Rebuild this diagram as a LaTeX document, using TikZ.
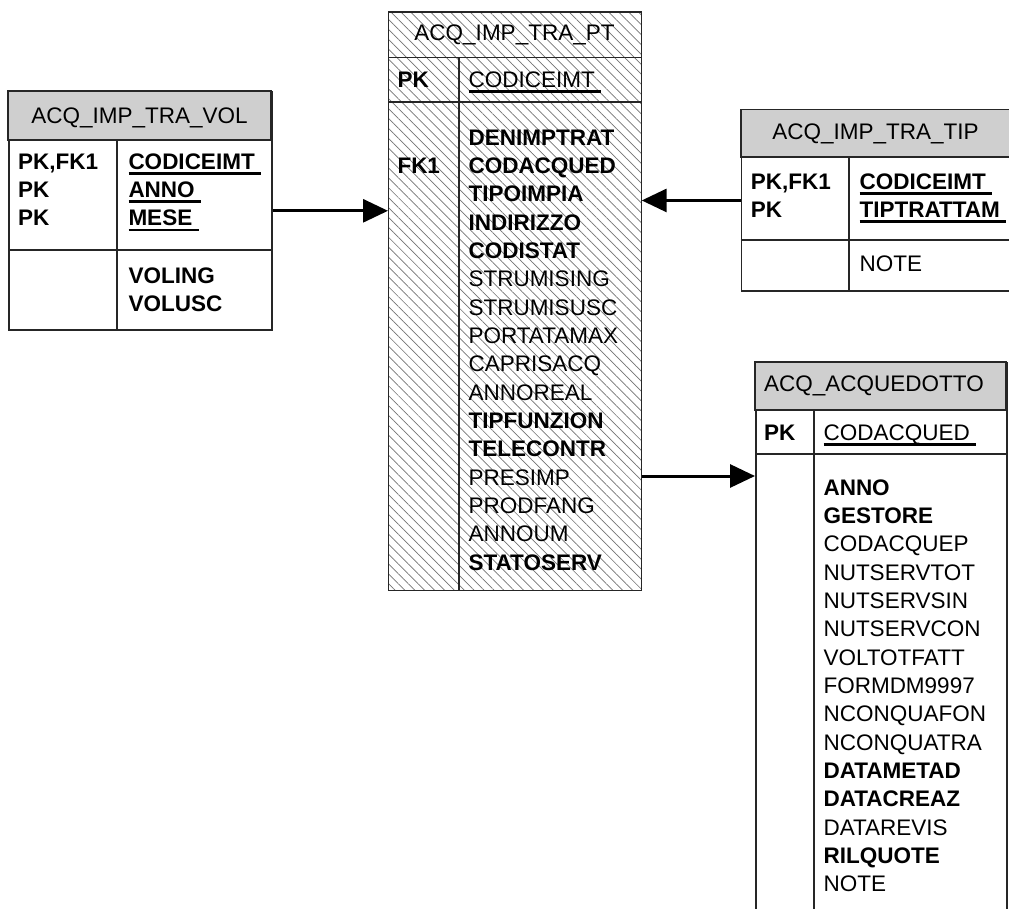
\documentclass[tikz,border=0pt]{standalone}
\usepackage{fontspec}
\setmainfont{Liberation Sans}
\usetikzlibrary{arrows.meta,patterns.meta}
\newcommand{\fs}{\fontsize{22.5pt}{28.33pt}\selectfont}
\newcommand{\pk}[1]{\setbox0\hbox{#1\ }\rlap{\rule[-5.5pt]{\wd0}{2.7pt}}#1}

\begin{document}
\begin{tikzpicture}[x=1pt,y=-1pt]
    \tikzset{
      box/.style={draw=black!85, line width=1.6pt},
      tbl/.style={box, anchor=north west, inner sep=0pt},
      hdr/.style={box, fill=black!19},
      title/.style={font=\fs, anchor=base, inner sep=0pt},
      rows/.style={font=\fs, anchor=north west, align=left, inner sep=0pt},
      link/.style={line width=3pt, -{Triangle[length=25pt,width=23pt]}},
    }
    \useasboundingbox (0,0) rectangle (1009,908);
    \clip (0,0) rectangle (1009,908);

    % ACQ_IMP_TRA_VOL
    \node[tbl, minimum width=263pt, minimum height=238pt] (vol) at (8,91) {};
    \draw[hdr] (8,91) rectangle (271,140);
    \draw[box] (8,250) -- (271,250) (117,140) -- (117,329);
    \node[title] (volname) at (139.5,123.5) {ACQ\_IMP\_TRA\_VOL};
    \node[rows] (volkeys) at (18,149.2) {\strut\textbf{PK,FK1}\\ \textbf{PK}\\ \textbf{PK}};
    \node[rows] (volpk) at (128.3,149.2) {\strut\textbf{\pk{CODICEIMT}}\\ \textbf{\pk{ANNO}}\\ \textbf{\pk{MESE}}};
    \node[rows] (volattr) at (128.3,263.2) {\strut\textbf{VOLING}\\ \textbf{VOLUSC}};

    % ACQ_IMP_TRA_PT
    \node[tbl, minimum width=253pt, minimum height=578.3pt,
      pattern={Lines[angle=-45,distance=7pt,line width=0.7pt]},
      pattern color=black!55] (pt) at (388,11.7) {};
    \draw[box] (388,57.3) -- (641,57.3) (388,101.7) -- (641,101.7)
      (458.7,57.3) -- (458.7,590);
    \node[title] (ptname) at (514.5,40) {ACQ\_IMP\_TRA\_PT};
    \node[rows] (ptkeys) at (397.3,67.2) {\strut\textbf{PK}};
    \node[rows] (ptpk) at (468.3,67.2) {\strut\pk{CODICEIMT}};
    \node[rows] (ptfk) at (397.3,153.2) {\strut\textbf{FK1}};
    \node[rows] (ptattr) at (468.3,125.2) {\strut\textbf{DENIMPTRAT}\\ \textbf{CODACQUED}\\
      \textbf{TIPOIMPIA}\\ \textbf{INDIRIZZO}\\ \textbf{CODISTAT}\\ STRUMISING\\
      STRUMISUSC\\ PORTATAMAX\\ CAPRISACQ\\ ANNOREAL\\ \textbf{TIPFUNZION}\\
      \textbf{TELECONTR}\\ PRESIMP\\ PRODFANG\\ ANNOUM\\ \textbf{STATOSERV}};

    % ACQ_IMP_TRA_TIP
    \node[tbl, minimum width=271.3pt, minimum height=180.7pt] (tip) at (740.7,109.3) {};
    \draw[hdr] (740.7,109.3) rectangle (1012,156.7);
    \draw[box] (740.7,240) -- (1012,240) (849,156.7) -- (849,290);
    \node[title] (tipname) at (875.5,139.7) {ACQ\_IMP\_TRA\_TIP};
    \node[rows] (tipkeys) at (750.7,169.2) {\strut\textbf{PK,FK1}\\ \textbf{PK}};
    \node[rows] (tippk) at (859.3,169.2) {\strut\textbf{\pk{CODICEIMT}}\\ \textbf{\pk{TIPTRATTAM}}};
    \node[rows] (tipattr) at (859.3,251.2) {\strut NOTE};

    % ACQ_ACQUEDOTTO
    \node[tbl, minimum width=251pt, minimum height=570pt] (acq) at (755,361.7) {};
    \draw[hdr] (755,361.7) rectangle (1006,410);
    \draw[box] (755,454) -- (1006,454) (814,410) -- (814,931.7);
    \node[title] (acqname) at (874,391.5) {ACQ\_ACQUEDOTTO};
    \node[rows] (acqkeys) at (764,420.2) {\strut\textbf{PK}};
    \node[rows] (acqpk) at (823.3,420.2) {\strut\pk{CODACQUED}};
    \node[rows] (acqattr) at (823.3,475.2) {\strut\textbf{ANNO}\\ \textbf{GESTORE}\\ CODACQUEP\\
      NUTSERVTOT\\ NUTSERVSIN\\ NUTSERVCON\\ VOLTOTFATT\\ FORMDM9997\\ NCONQUAFON\\
      NCONQUATRA\\ \textbf{DATAMETAD}\\ \textbf{DATACREAZ}\\ DATAREVIS\\ \textbf{RILQUOTE}\\ NOTE};

    % links
    \coordinate (acqin) at (755,476);
    \draw[link] (vol.east) -- (vol.east -| pt.west);
    \draw[link] (tip.west) -- (tip.west -| pt.east);
    \draw[link] (acqin -| pt.east) -- (acqin);
\end{tikzpicture}
\end{document}
